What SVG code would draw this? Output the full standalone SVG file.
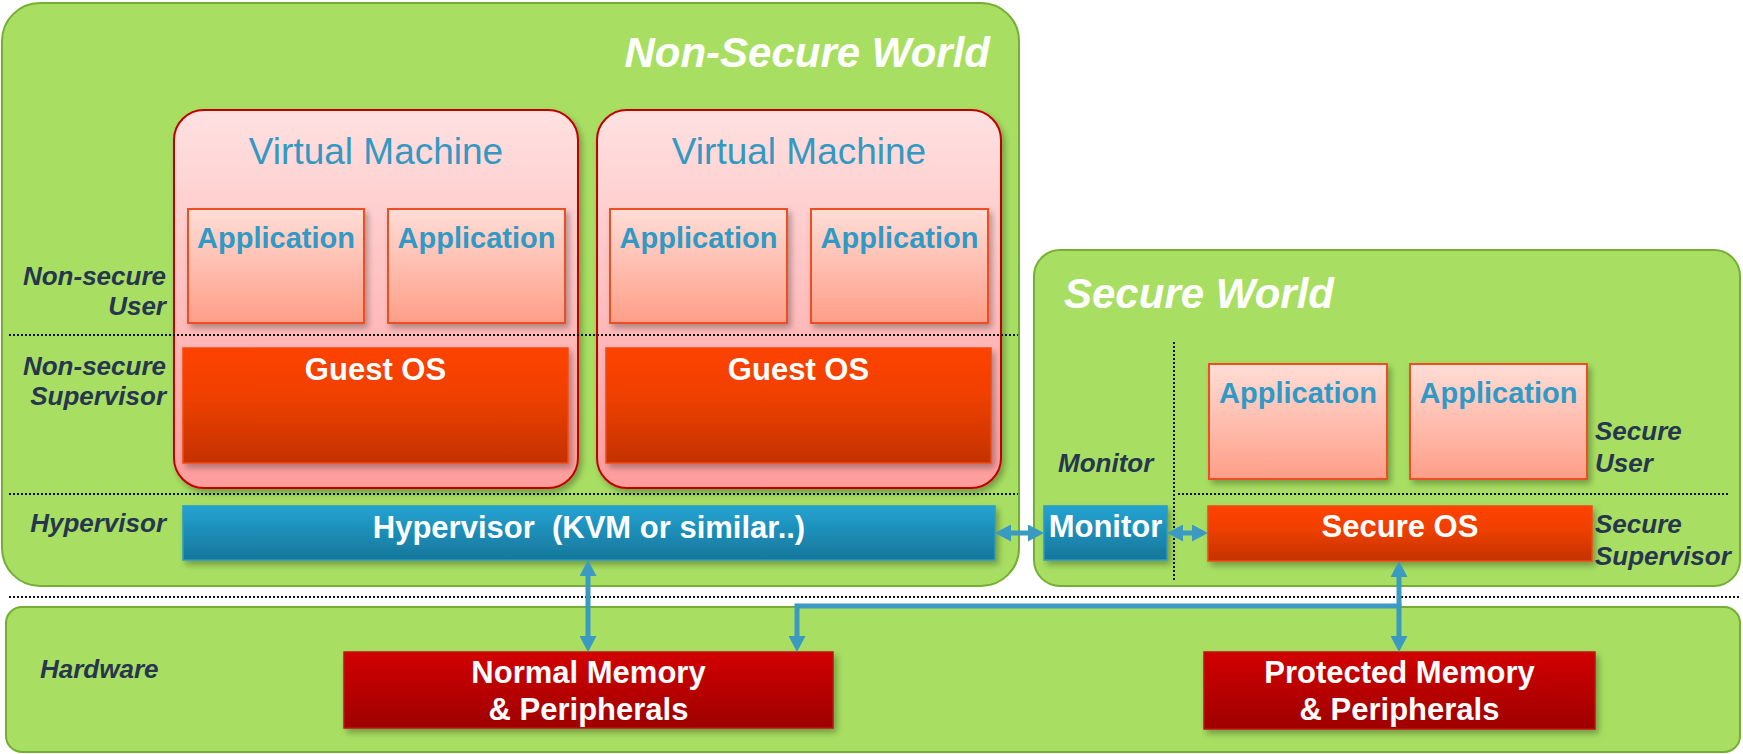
<svg xmlns="http://www.w3.org/2000/svg" width="1743" height="754" viewBox="0 0 1743 754">
<defs>
<linearGradient id="vmGrad" x1="0" y1="0" x2="0" y2="1"><stop offset="0" stop-color="#FFE1E1"/><stop offset="1" stop-color="#FF9C9C"/></linearGradient>
<linearGradient id="appGrad" x1="0" y1="0" x2="0" y2="1"><stop offset="0" stop-color="#FFDDD6"/><stop offset="1" stop-color="#FF9E88"/></linearGradient>
<linearGradient id="osGrad" x1="0" y1="0" x2="0" y2="1"><stop offset="0" stop-color="#FF4300"/><stop offset="0.4" stop-color="#F04000"/><stop offset="1" stop-color="#C43200"/></linearGradient>
<linearGradient id="hvGrad" x1="0" y1="0" x2="0" y2="1"><stop offset="0" stop-color="#23A3D2"/><stop offset="1" stop-color="#17769A"/></linearGradient>
<linearGradient id="memGrad" x1="0" y1="0" x2="0" y2="1"><stop offset="0" stop-color="#D20000"/><stop offset="1" stop-color="#9E0000"/></linearGradient>
<filter id="shadow" x="-10%" y="-10%" width="130%" height="140%"><feDropShadow dx="3" dy="4" stdDeviation="3" flood-color="#000" flood-opacity="0.3"/></filter>
<marker id="arr" markerUnits="userSpaceOnUse" markerWidth="16" markerHeight="17" refX="0" refY="8.5" orient="auto-start-reverse" viewBox="0 0 16 17"><path d="M0,0 L16,8.5 L0,17 z" fill="#3A9AC2"/></marker>
</defs>
<style>
.world{fill:#A8DF62;stroke:#74AE34;stroke-width:2}
.vm{fill:url(#vmGrad);stroke:#C00000;stroke-width:2;filter:url(#shadow)}
.app{fill:url(#appGrad);stroke:#EE5020;stroke-width:2;filter:url(#shadow)}
.os{fill:url(#osGrad);stroke:#F04A10;stroke-width:1.5;filter:url(#shadow)}
.hv{fill:url(#hvGrad);stroke:#2A9CC8;stroke-width:1.5;filter:url(#shadow)}
.mem{fill:url(#memGrad);stroke:#C01010;stroke-width:1.5;filter:url(#shadow)}
.dot{stroke:#111;stroke-width:2;stroke-dasharray:2 2;fill:none}
.conn{stroke:#3A9AC2;stroke-width:5;fill:none}
text{font-family:"Liberation Sans",Arial,sans-serif}
.title{font-size:42px;font-weight:bold;font-style:italic;fill:#FFFFFF}
.vmt{font-size:37px;fill:#3399C2;text-anchor:middle}
.appt{font-size:29px;font-weight:bold;fill:#2F9AC6;text-anchor:middle}
.wt{font-size:31px;font-weight:bold;fill:#FFFFFF;text-anchor:middle}
.lbl{font-size:26px;font-weight:bold;font-style:italic;fill:#27364F}
.r{text-anchor:end}
</style>
<rect width="1743" height="754" fill="#FFFFFF"/>
<g id="non-secure-world">
<rect class="world" x="2" y="3" width="1017" height="583" rx="38"/>
<text class="title" x="990" y="67" text-anchor="end">Non-Secure World</text>
</g>
<g id="secure-world">
<rect class="world" x="1034" y="250" width="706" height="336" rx="26"/>
<text class="title" x="1064" y="308">Secure World</text>
</g>
<g id="hardware">
<rect class="world" x="6" y="607" width="1734" height="145" rx="16"/>
</g>
<g id="labels">
<text class="lbl r" x="166" y="285">Non-secure</text>
<text class="lbl r" x="166" y="315">User</text>
<text class="lbl r" x="166" y="375">Non-secure</text>
<text class="lbl r" x="166" y="405">Supervisor</text>
<text class="lbl r" x="166" y="532">Hypervisor</text>
<text class="lbl" x="40" y="678">Hardware</text>
<text class="lbl" x="1058" y="472">Monitor</text>
<text class="lbl" x="1595" y="440">Secure</text>
<text class="lbl" x="1595" y="472">User</text>
<text class="lbl" x="1595" y="533">Secure</text>
<text class="lbl" x="1595" y="565">Supervisor</text>
</g>
<g id="vm1">
<rect class="vm" x="174" y="110" width="404" height="378" rx="30"/>
<text class="vmt" x="376" y="164">Virtual Machine</text>
</g>
<g id="vm1-app1"><rect class="app" x="188" y="209" width="176" height="114"/><text class="appt" x="276" y="248">Application</text></g>
<g id="vm1-app2"><rect class="app" x="388" y="209" width="177" height="114"/><text class="appt" x="476.5" y="248">Application</text></g>
<g id="vm1-guestos"><rect class="os" x="183" y="348" width="385" height="115"/><text class="wt" x="375.5" y="380">Guest OS</text></g>
<g id="vm2">
<rect class="vm" x="597" y="110" width="404" height="378" rx="30"/>
<text class="vmt" x="799" y="164">Virtual Machine</text>
</g>
<g id="vm2-app1"><rect class="app" x="610" y="209" width="177" height="114"/><text class="appt" x="698.5" y="248">Application</text></g>
<g id="vm2-app2"><rect class="app" x="811" y="209" width="177" height="114"/><text class="appt" x="899.5" y="248">Application</text></g>
<g id="vm2-guestos"><rect class="os" x="606" y="348" width="385" height="115"/><text class="wt" x="798.5" y="380">Guest OS</text></g>
<g id="separators">
<line class="dot" x1="9" y1="335" x2="1018" y2="335"/>
<line class="dot" x1="9" y1="494" x2="1018" y2="494"/>
<line class="dot" x1="9" y1="597" x2="1740" y2="597"/>
<line class="dot" x1="1174" y1="342" x2="1174" y2="580"/>
<line class="dot" x1="1178" y1="494" x2="1729" y2="494"/>
</g>
<g id="hypervisor"><rect class="hv" x="183" y="506" width="812" height="54"/><text class="wt" x="589" y="538" font-size="32" xml:space="preserve">Hypervisor  (KVM or similar..)</text></g>
<g id="monitor"><rect class="hv" x="1044" y="506" width="123" height="54"/><text class="wt" x="1105.5" y="537">Monitor</text></g>
<g id="sec-app1"><rect class="app" x="1209" y="364" width="178" height="115"/><text class="appt" x="1298" y="403">Application</text></g>
<g id="sec-app2"><rect class="app" x="1410" y="364" width="177" height="115"/><text class="appt" x="1498.5" y="403">Application</text></g>
<g id="secure-os"><rect class="os" x="1208" y="506" width="384" height="55"/><text class="wt" x="1400" y="537" font-size="32">Secure OS</text></g>
<g id="normal-memory"><rect class="mem" x="344" y="652" width="489" height="76"/><text class="wt" x="588.5" y="683">Normal Memory</text><text class="wt" x="588.5" y="720">&amp; Peripherals</text></g>
<g id="protected-memory"><rect class="mem" x="1204" y="652" width="391" height="77"/><text class="wt" x="1399.5" y="683">Protected Memory</text><text class="wt" x="1399.5" y="720">&amp; Peripherals</text></g>
<g id="connectors">
<path class="conn" d="M588,576 L588,636" marker-start="url(#arr)" marker-end="url(#arr)"/>
<path class="conn" d="M1011,533 L1028,533" marker-start="url(#arr)" marker-end="url(#arr)"/>
<path class="conn" d="M1183,533 L1192,533" marker-start="url(#arr)" marker-end="url(#arr)"/>
<path class="conn" d="M1399,577 L1399,636" marker-start="url(#arr)" marker-end="url(#arr)"/>
<path class="conn" d="M1401.5,606 L797,606 L797,636" marker-end="url(#arr)"/>
</g>
</svg>
